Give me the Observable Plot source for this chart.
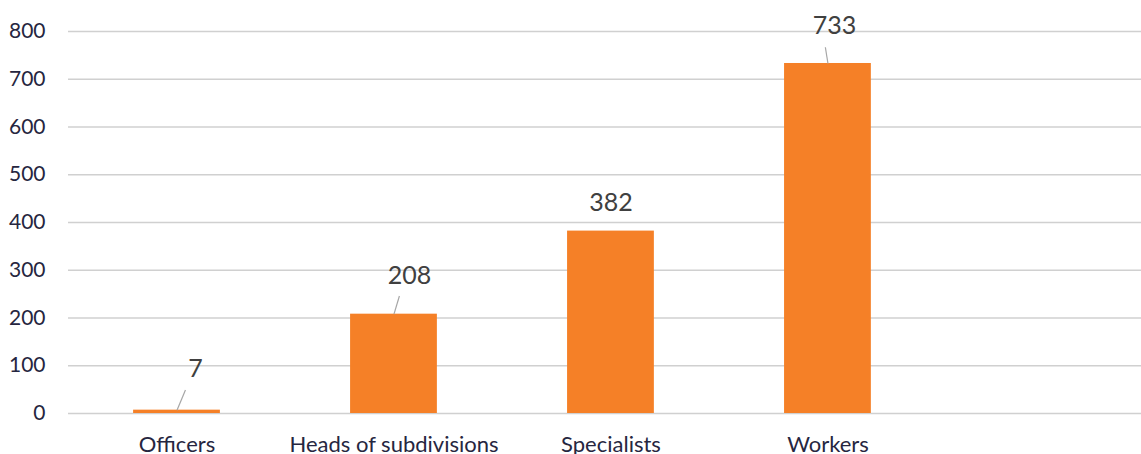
<!DOCTYPE html>
<html>
<head>
<meta charset="utf-8">
<script src="https://cdn.jsdelivr.net/npm/d3@7"></script>
<script src="https://cdn.jsdelivr.net/npm/@observablehq/plot@0.6"></script>
<style>
  html, body { margin: 0; padding: 0; background: #fff; }
  #chart svg { display: block; }
</style>
</head>
<body>
<div id="chart"></div>
<script>
// ---- data ----
const categories = ["Officers", "Heads of subdivisions", "Specialists", "Workers"];
const values = [7, 208, 382, 733];
const yTicks = [0, 100, 200, 300, 400, 500, 600, 700, 800];

// ---- label layout (offset of label centre from bar centre in band units, label y in data units) ----
const labelDx = [0.085, 0.071, 0.0, 0.03];
const labelY = [93, 288, 440, 811];
const leaderDx = [0.039, 0.025, null, -0.012];
const leaderY2 = [49, 246, null, 767];

const data = categories.map((c, i) => ({i, category: c, value: values[i]}));
const leaders = data.filter((d, k) => leaderDx[k] != null).map(d => ({
  x1: d.i, y1: d.value, x2: d.i + leaderDx[d.i], y2: leaderY2[d.i]
}));
const labels = data.map(d => ({x: d.i + labelDx[d.i], y: labelY[d.i], text: String(d.value)}));

const font = "Lato, 'Open Sans', sans-serif";

const chart = Plot.plot({
  width: 1141,
  height: 454,
  marginLeft: 68,
  marginRight: 0,
  marginTop: 31,
  marginBottom: 41,
  style: {fontFamily: font, fontSize: "21px", color: "#262640", background: "#fff"},
  x: {domain: [-0.5, 4.445], axis: null},
  y: {domain: [0, 800], axis: null},
  marks: [
    Plot.ruleY(yTicks, {stroke: "#d0d0d0", strokeWidth: 1.3}),
    Plot.axisY({ticks: yTicks, tickSize: 0, tickPadding: 23, fill: "#262640", fontSize: 21}),
    Plot.axisX({ticks: d3.range(categories.length), tickFormat: i => categories[i], tickSize: 0, tickPadding: 23, fill: "#262640", fontSize: 22}),
    Plot.rectY(data, {x1: d => d.i - 0.2, x2: d => d.i + 0.2, y: "value", fill: "#F58027"}),
    Plot.link(leaders, {x1: "x1", y1: "y1", x2: "x2", y2: "y2", stroke: "#a6a6a6", strokeWidth: 1.2}),
    Plot.text(labels, {x: "x", y: "y", text: "text", fill: "#404040", fontSize: 25, textAnchor: "middle"})
  ]
});
document.getElementById("chart").append(chart);
</script>
</body>
</html>
